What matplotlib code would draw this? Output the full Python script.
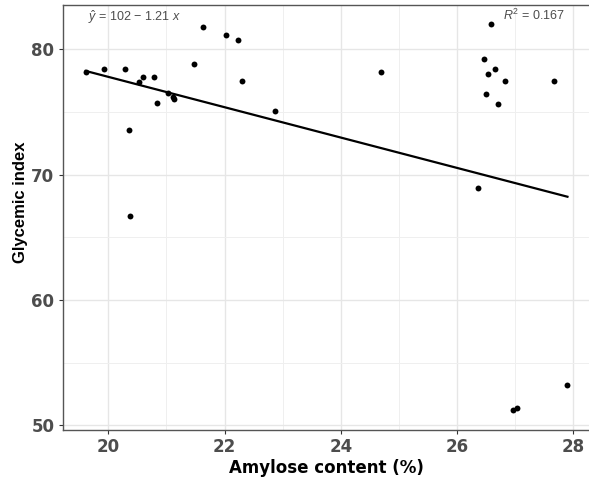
import matplotlib.pyplot as plt
import numpy as np

plt.rcParams["font.family"] = ["DejaVu Sans"]
plt.rcParams["mathtext.fontset"] = "custom"
plt.rcParams["mathtext.rm"] = "Liberation Sans"
plt.rcParams["mathtext.it"] = "Liberation Sans:italic"

# Amylose content (%) vs glycemic index
amylose = [19.61, 19.92, 20.28, 20.52, 20.60, 20.78, 20.84, 21.02, 21.11, 21.13,
           20.36, 20.37, 21.48, 21.63, 22.03, 22.23, 22.30, 22.87,
           24.70, 26.58, 26.46, 26.65, 26.53, 26.83, 26.50, 26.71, 27.67, 26.36,
           26.96, 27.04, 27.90]
glycemic = [78.2, 78.4, 78.4, 77.4, 77.8, 77.8, 75.7, 76.5, 76.2, 76.0,
            73.6, 66.7, 78.8, 81.8, 81.1, 80.7, 77.5, 75.1,
            78.2, 82.0, 79.2, 78.4, 78.0, 77.5, 76.4, 75.6, 77.5, 68.9,
            51.2, 51.4, 53.2]
intercept, slope = 102.0, -1.21
r_squared = 0.167
x_ticks = [20, 22, 24, 26, 28]
y_ticks = [50, 60, 70, 80]

fig = plt.figure(figsize=(5.89, 4.82), dpi=100)
ax = fig.add_axes([62.7 / 589, 52 / 482, 528 / 589, 425 / 482])

x = np.array(amylose)
y = np.array(glycemic)
xl = np.linspace(x.min(), x.max(), 50)
ax.plot(xl, intercept + slope * xl, color="black", linewidth=1.6, zorder=3)
ax.scatter(x, y, s=18, color="black", zorder=4, linewidths=0)

ax.set_xlim(19.215, 28.3)
ax.set_ylim(49.64, 83.53)
ax.set_xticks(x_ticks)
ax.set_yticks(y_ticks)
ax.set_xticks([21, 23, 25, 27], minor=True)
ax.set_yticks([55, 65, 75], minor=True)
ax.grid(True, which="major", color="#e6e6e6", linewidth=1.0)
ax.grid(True, which="minor", color="#efefef", linewidth=0.7)
ax.set_axisbelow(True)
ax.tick_params(which="minor", length=0)
ax.tick_params(which="major", length=3, width=0.8, color="#333333",
               labelsize=12, labelcolor="#4d4d4d", pad=3)
for lab in ax.get_xticklabels() + ax.get_yticklabels():
    lab.set_fontweight("bold")
for sp in ax.spines.values():
    sp.set_color("#555555")
    sp.set_linewidth(1.0)

ax.set_xlabel("Amylose content (%)", fontsize=12, fontweight="bold", labelpad=2)
ax.set_ylabel("Glycemic index", fontsize=12, fontweight="bold",
              family="Liberation Sans")
ax.yaxis.set_label_coords(-0.066, 0.535)

ax.text(0.048, 0.993, r"$\hat{y}$ = %g $-$ %.2f $x$" % (intercept, -slope),
        transform=ax.transAxes, ha="left", va="top", fontsize=9, color="#4d4d4d",
        family="Liberation Sans")
ax.text(0.951, 0.993, r"$R^2$ = %.3f" % r_squared,
        transform=ax.transAxes, ha="right", va="top", fontsize=9, color="#4d4d4d",
        family="Liberation Sans")

fig.savefig("out.png", dpi=100)
